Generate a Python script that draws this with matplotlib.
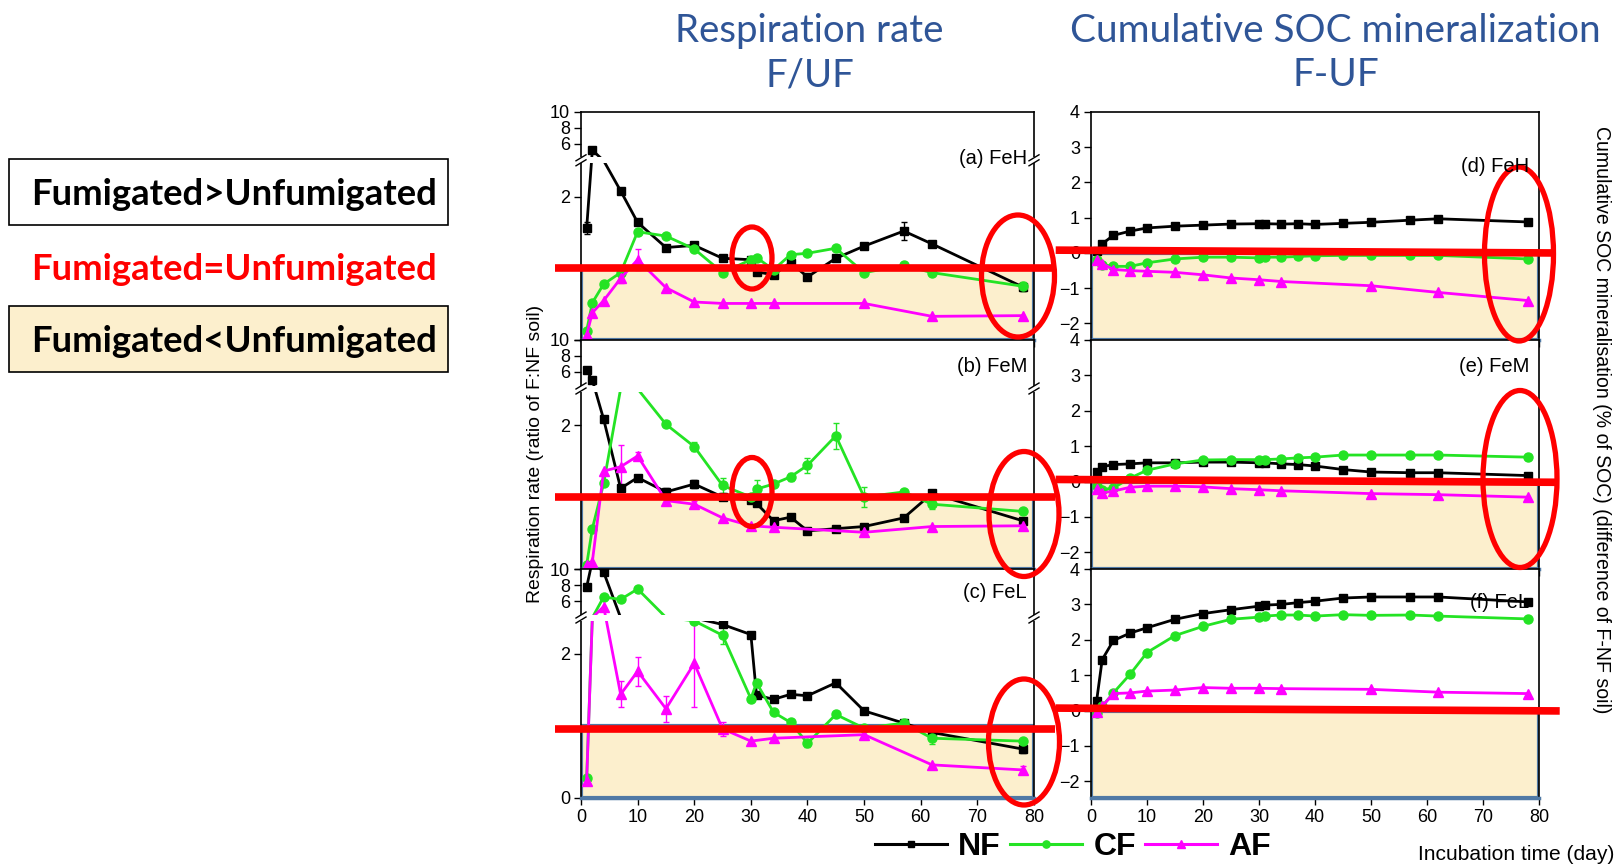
import numpy as np
import matplotlib
matplotlib.use('Agg')
import matplotlib.pyplot as plt
from matplotlib.patches import Ellipse, Rectangle
from matplotlib.lines import Line2D
from matplotlib import font_manager

# ---------------- values ----------------
DAYS = [1, 2, 4, 7, 10, 15, 20, 25, 30, 31, 34, 37, 40, 45, 50, 57, 62, 78]
AF_DAYS = [1, 2, 4, 7, 10, 15, 20, 25, 30, 34, 50, 62, 78]

# respiration rate F/UF (ratio of F:NF soil); values 2.5-4 sit in the axis break
RESP_A_NF = [1.56, 5.2, 2.7, 2.08, 1.64, 1.29, 1.32, 1.14, 1.12, 0.95, 0.91, 1.08, 0.88, 1.14, 1.31, 1.52, 1.34, 0.74]
RESP_A_CF = [0.13, 0.52, 0.78, 0.94, 1.51, 1.45, 1.27, 0.94, 1.12, 1.15, 0.98, 1.19, 1.21, 1.28, 0.94, 1.04, 0.94, 0.75]
RESP_A_AF = [0.07, 0.38, 0.55, 0.86, 1.12, 0.73, 0.53, 0.51, 0.51, 0.51, 0.51, 0.33, 0.34]
RESP_B_NF = [6.2, 5.0, 2.08, 1.12, 1.27, 1.07, 1.18, 1.0, 0.96, 0.91, 0.67, 0.72, 0.53, 0.56, 0.59, 0.71, 1.05, 0.67]
RESP_B_CF = [0.06, 0.56, 1.19, 2.9, 2.7, 2.01, 1.70, 1.16, 1.0, 1.11, 1.18, 1.28, 1.44, 1.85, 1.0, 1.07, 0.90, 0.80]
RESP_B_AF = [0.05, 0.10, 1.36, 1.42, 1.57, 0.95, 0.90, 0.71, 0.60, 0.58, 0.51, 0.59, 0.60]
RESP_C_NF = [7.75, 11.0, 9.6, 3.0, 2.7, 2.6, 2.55, 2.41, 2.27, 1.43, 1.37, 1.44, 1.42, 1.60, 1.21, 1.04, 0.91, 0.68]
RESP_C_CF = [0.28, 3.0, 6.5, 6.2, 7.5, 3.4, 2.46, 2.26, 1.38, 1.60, 1.19, 1.05, 0.76, 1.16, 0.97, 1.04, 0.83, 0.79]
RESP_C_AF = [0.24, 3.0, 5.3, 1.44, 1.76, 1.24, 1.87, 0.96, 0.79, 0.83, 0.88, 0.46, 0.39]

# cumulative SOC mineralisation, F-NF difference (% of SOC)
CUM_D_NF = [0.05, 0.26, 0.50, 0.62, 0.71, 0.76, 0.79, 0.82, 0.83, 0.83, 0.82, 0.83, 0.81, 0.84, 0.87, 0.93, 0.97, 0.88]
CUM_D_CF = [-0.21, -0.33, -0.38, -0.38, -0.28, -0.17, -0.12, -0.12, -0.14, -0.12, -0.12, -0.10, -0.08, -0.07, -0.07, -0.07, -0.07, -0.17]
CUM_D_AF = [-0.21, -0.30, -0.47, -0.50, -0.52, -0.55, -0.62, -0.71, -0.76, -0.81, -0.93, -1.12, -1.35]
CUM_E_NF = [0.26, 0.42, 0.48, 0.50, 0.53, 0.53, 0.55, 0.55, 0.53, 0.53, 0.50, 0.48, 0.44, 0.34, 0.27, 0.25, 0.25, 0.17]
CUM_E_CF = [-0.13, -0.23, -0.18, 0.10, 0.32, 0.50, 0.61, 0.62, 0.62, 0.62, 0.64, 0.67, 0.69, 0.75, 0.75, 0.75, 0.75, 0.69]
CUM_E_AF = [-0.21, -0.32, -0.27, -0.16, -0.13, -0.13, -0.15, -0.20, -0.23, -0.26, -0.34, -0.37, -0.44]
CUM_F_NF = [0.27, 1.44, 1.98, 2.19, 2.34, 2.58, 2.74, 2.85, 2.95, 2.98, 3.00, 3.05, 3.09, 3.18, 3.21, 3.21, 3.21, 3.07]
CUM_F_CF = [-0.07, 0.12, 0.50, 1.03, 1.64, 2.12, 2.38, 2.58, 2.64, 2.67, 2.70, 2.70, 2.67, 2.71, 2.69, 2.70, 2.67, 2.59]
CUM_F_AF = [-0.05, 0.12, 0.48, 0.50, 0.55, 0.58, 0.65, 0.63, 0.63, 0.62, 0.60, 0.52, 0.48]

# visible error bars, {day: half-width}
ERR_A_NF = {1: 0.08, 20: 0.04, 57: 0.12, 78: 0.05}
ERR_A_CF = {50: 0.04, 78: 0.06}
ERR_A_AF = {7: 0.06, 10: 0.15}
ERR_B_NF = {15: 0.05, 20: 0.05, 78: 0.04}
ERR_B_CF = {20: 0.06, 25: 0.10, 31: 0.12, 37: 0.06, 40: 0.10, 45: 0.18, 50: 0.14, 62: 0.06, 78: 0.04}
ERR_B_AF = {7: 0.30, 10: 0.05, 20: 0.04, 78: 0.05}
ERR_C_NF = {78: 0.06}
ERR_C_CF = {25: 0.12, 40: 0.05, 57: 0.05, 62: 0.08}
ERR_C_AF = {7: 0.18, 10: 0.20, 15: 0.18, 20: 0.60, 25: 0.10, 50: 0.06, 78: 0.06}
ERR_D_NF = {78: 0.06}
ERR_E_CF = {78: 0.08}

PANEL_LABELS = ['(a) FeH', '(b) FeM', '(c) FeL', '(d) FeH', '(e) FeM', '(f) FeL']
SERIES = ['NF', 'CF', 'AF']
EQUAL_RATIO = [1.0, 1.0, 0.96]     # red "F = UF" line on the ratio panels
EQUAL_DIFF = [0.04, 0.02, 0.03]    # red "F = UF" line on the difference panels

# ---------------- look ----------------
W, H = 1622, 865
TAN = '#FCEFCD'
FRAME_BLUE = '#5079A5'
TITLE_BLUE = '#2F5597'
COLORS = {'NF': 'black', 'CF': '#24E324', 'AF': '#FF00FF'}
MARKERS = {'NF': ('s', 6.0), 'CF': ('o', 6.5), 'AF': ('^', 7.0)}
TICK_SIZE = 13


def has_font(name):
    return any(f.name == name for f in font_manager.fontManager.ttflist)


NARROW = 'Liberation Sans Narrow' if has_font('Liberation Sans Narrow') else 'Liberation Sans'
plt.rcParams['font.family'] = ['Liberation Sans', 'DejaVu Sans']

# piecewise y scale for the ratio panels: 0-2.5 below the break, 4-10 squeezed above
BRK_LO, BRK_HI = 2.5, 4.0
BRK_V = [-100.0, BRK_LO, BRK_HI, 100.0]
BRK_S = [-7200.0, 180.0, 181.0, 181.0 + 96 * 8.0]


def brk_fwd(v):
    v = np.asarray(v, dtype=float)
    return np.interp(v.ravel(), BRK_V, BRK_S).reshape(v.shape)


def brk_inv(s):
    s = np.asarray(s, dtype=float)
    return np.interp(s.ravel(), BRK_S, BRK_V).reshape(s.shape)


fig = plt.figure(figsize=(W / 100, H / 100), dpi=100)


def px_axes(x0, x1, top, bottom):
    return fig.add_axes([x0 / W, 1 - bottom / H, (x1 - x0) / W, (bottom - top) / H])


def series(ax, days, vals, err, key, broken=False):
    c = COLORS[key]
    m, ms = MARKERS[key]
    if broken:
        # points that fall inside the axis break get no marker
        shown = [i for i, v in enumerate(vals) if not (BRK_LO < v < BRK_HI)]
    else:
        shown = None
    ax.plot(days, vals, color=c, lw=2, marker=m, ms=ms, mfc=c, mec=c,
            markevery=shown, zorder=4)
    if err:
        ed = list(err)
        ev = [vals[days.index(d)] for d in ed]
        ax.errorbar(ed, ev, yerr=list(err.values()), fmt='none', ecolor=c,
                    elinewidth=1, capsize=2.5, capthick=1, zorder=3.5)


def style_axes(ax, show_x):
    ax.set_xlim(0, 80)
    ax.set_xticks(range(0, 81, 10))
    if not show_x:
        ax.set_xticklabels([])
    ax.tick_params(direction='out', length=5, width=1, labelsize=TICK_SIZE, pad=3)
    for s in ['left', 'right', 'top']:
        ax.spines[s].set_linewidth(1.2)
    ax.spines['bottom'].set_color(FRAME_BLUE)
    ax.spines['bottom'].set_linewidth(2.5)


def add_break(ax):
    pos = ax.get_position()
    hpx, wpx = pos.height * H, pos.width * W
    f = (brk_fwd(BRK_LO) + brk_fwd(BRK_HI)) / 2 / brk_fwd(10.0)
    ax.add_patch(Rectangle((-0.02, f - 3 / hpx), 1.04, 6 / hpx, transform=ax.transAxes,
                           fc='white', ec='none', clip_on=False, zorder=7))
    for x in (0, 1):
        for off in (-2.5, 2.5):
            yc = f + off / hpx
            ax.plot([x - 5 / wpx, x + 5 / wpx], [yc - 3 / hpx, yc + 3 / hpx],
                    transform=ax.transAxes, color='black', lw=1, clip_on=False, zorder=8)


ROWS = [(112, 340), (340, 569), (569, 798)]
LEFT_X = (581, 1034)
RIGHT_X = (1091, 1539)

left_data = [(RESP_A_NF, RESP_A_CF, RESP_A_AF, ERR_A_NF, ERR_A_CF, ERR_A_AF),
             (RESP_B_NF, RESP_B_CF, RESP_B_AF, ERR_B_NF, ERR_B_CF, ERR_B_AF),
             (RESP_C_NF, RESP_C_CF, RESP_C_AF, ERR_C_NF, ERR_C_CF, ERR_C_AF)]
right_data = [(CUM_D_NF, CUM_D_CF, CUM_D_AF, ERR_D_NF, {}, {}),
              (CUM_E_NF, CUM_E_CF, CUM_E_AF, {}, ERR_E_CF, {}),
              (CUM_F_NF, CUM_F_CF, CUM_F_AF, {}, {}, {})]

for i, (top, bottom) in enumerate(ROWS):
    # ratio panel with broken axis
    ax = px_axes(LEFT_X[0], LEFT_X[1], top, bottom)
    ax.set_yscale('function', functions=(brk_fwd, brk_inv))
    ax.set_ylim(0, 10)
    ax.set_yticks([0, 2, 6, 8, 10])
    ax.set_yticklabels(['0' if i == 2 else '', '2', '6', '8', '10'])
    ax.minorticks_off()
    style_axes(ax, i == 2)
    ax.axhspan(0, 1, fc=TAN, ec=FRAME_BLUE, lw=3, zorder=1)
    nf, cf, af, enf, ecf, eaf = left_data[i]
    series(ax, DAYS, nf, enf, 'NF', broken=True)
    series(ax, DAYS, cf, ecf, 'CF', broken=True)
    series(ax, AF_DAYS, af, eaf, 'AF', broken=True)
    add_break(ax)
    ax.plot([-4.6, 83.7], [EQUAL_RATIO[i]] * 2, color='red', lw=5.5,
            solid_capstyle='butt', clip_on=False, zorder=9)

    # cumulative difference panel
    bx = px_axes(RIGHT_X[0], RIGHT_X[1], top, bottom)
    bx.set_ylim(-2.47, 4)
    bx.set_yticks(range(-2, 5))
    style_axes(bx, i == 2)
    bx.axhspan(-2.47, 0, fc=TAN, ec=FRAME_BLUE, lw=3, zorder=1)
    nf, cf, af, enf, ecf, eaf = right_data[i]
    series(bx, DAYS, nf, enf, 'NF')
    series(bx, DAYS, cf, ecf, 'CF')
    series(bx, AF_DAYS, af, eaf, 'AF')
    bx.plot([-6.3, 82.5 + 0.6 * i], [EQUAL_DIFF[i] + 0.04, EQUAL_DIFF[i] - 0.04], color='red',
            lw=5.5, solid_capstyle='butt', clip_on=False, zorder=9)

# ---------------- overlay in pixel coordinates for annotations ----------------
ov = fig.add_axes([0, 0, 1, 1], zorder=10)
ov.set_xlim(0, W)
ov.set_ylim(H, 0)
ov.axis('off')
renderer = fig.canvas.get_renderer()


def fit(t, size_px, along='w'):
    bb = t.get_window_extent(renderer)
    cur = bb.width if along == 'w' else bb.height
    t.set_fontsize(t.get_fontsize() * size_px / cur)
    return t


for (cx, cy, w, h) in [(752, 258, 40, 62), (1018, 276, 73, 122), (752, 492, 40, 69),
                       (1024, 514, 70, 125), (1024, 742, 71, 126),
                       (1519, 254, 69, 174), (1520, 479, 74, 177)]:
    ov.add_patch(Ellipse((cx, cy), w, h, fill=False, ec='red', lw=3.8))

# panel labels
for lab, (x, y) in zip(PANEL_LABELS, [(1027, 159), (1027, 366), (1027, 592),
                                      (1529, 167), (1529, 366), (1529, 602)]):
    ov.text(x, y, lab, ha='right', va='center', fontsize=14.5)

# titles
t1 = fit(ov.text(809, 31, 'Respiration rate', ha='center', va='center',
                 color=TITLE_BLUE, family=['Lato', 'DejaVu Sans'], fontsize=24), 268)
ov.text(810, 75, 'F/UF', ha='center', va='center', color=TITLE_BLUE,
        family=['Lato', 'DejaVu Sans'], fontsize=t1.get_fontsize())
t2 = fit(ov.text(1335, 31, 'Cumulative SOC mineralization', ha='center', va='center',
                 color=TITLE_BLUE, family=['Lato', 'DejaVu Sans'], fontsize=24), 530)
ov.text(1336, 75, 'F-UF', ha='center', va='center', color=TITLE_BLUE,
        family=['Lato', 'DejaVu Sans'], fontsize=t2.get_fontsize())

# key boxes on the left
ov.add_patch(Rectangle((9, 159), 439, 66, fill=False, ec='black', lw=1.2))
ov.add_patch(Rectangle((9, 306), 439, 66, fc=TAN, ec='black', lw=1.2))
for txt, y, col in [('Fumigated>Unfumigated', 205, 'black'),
                    ('Fumigated=Unfumigated', 280, 'red'),
                    ('Fumigated<Unfumigated', 352, 'black')]:
    fit(ov.text(31, y, txt, ha='left', va='baseline', color=col, weight='bold',
                family=['Lato', 'DejaVu Sans'], fontsize=24), 407)

# axis titles
fit(ov.text(535, 454, 'Respiration rate (ratio of F:NF soil)', rotation=90,
            ha='center', va='center', fontsize=12), 298, 'h')
fit(ov.text(1601, 420, 'Cumulative SOC mineralisation (% of SOC) (difference of F-NF soil)',
            rotation=-90, ha='center', va='center', fontsize=12), 588, 'h')
fit(ov.text(1614, 855, 'Incubation time (day)', ha='right', va='center',
            family=[NARROW, 'DejaVu Sans'], fontsize=14), 197)

handles = [Line2D([], [], color=COLORS[k], lw=2.2, marker=MARKERS[k][0], ms=MARKERS[k][1] * 0.8,
                  mfc=COLORS[k], mec=COLORS[k]) for k in SERIES]
fig.legend(handles, SERIES, loc='center', bbox_to_anchor=(1073 / W, 1 - 847 / H), ncol=3,
           frameon=False, prop=dict(family=NARROW, weight='bold', size=23),
           handlelength=2.25, handletextpad=0.35, columnspacing=0.3)

fig.savefig('out.png', dpi=100)
